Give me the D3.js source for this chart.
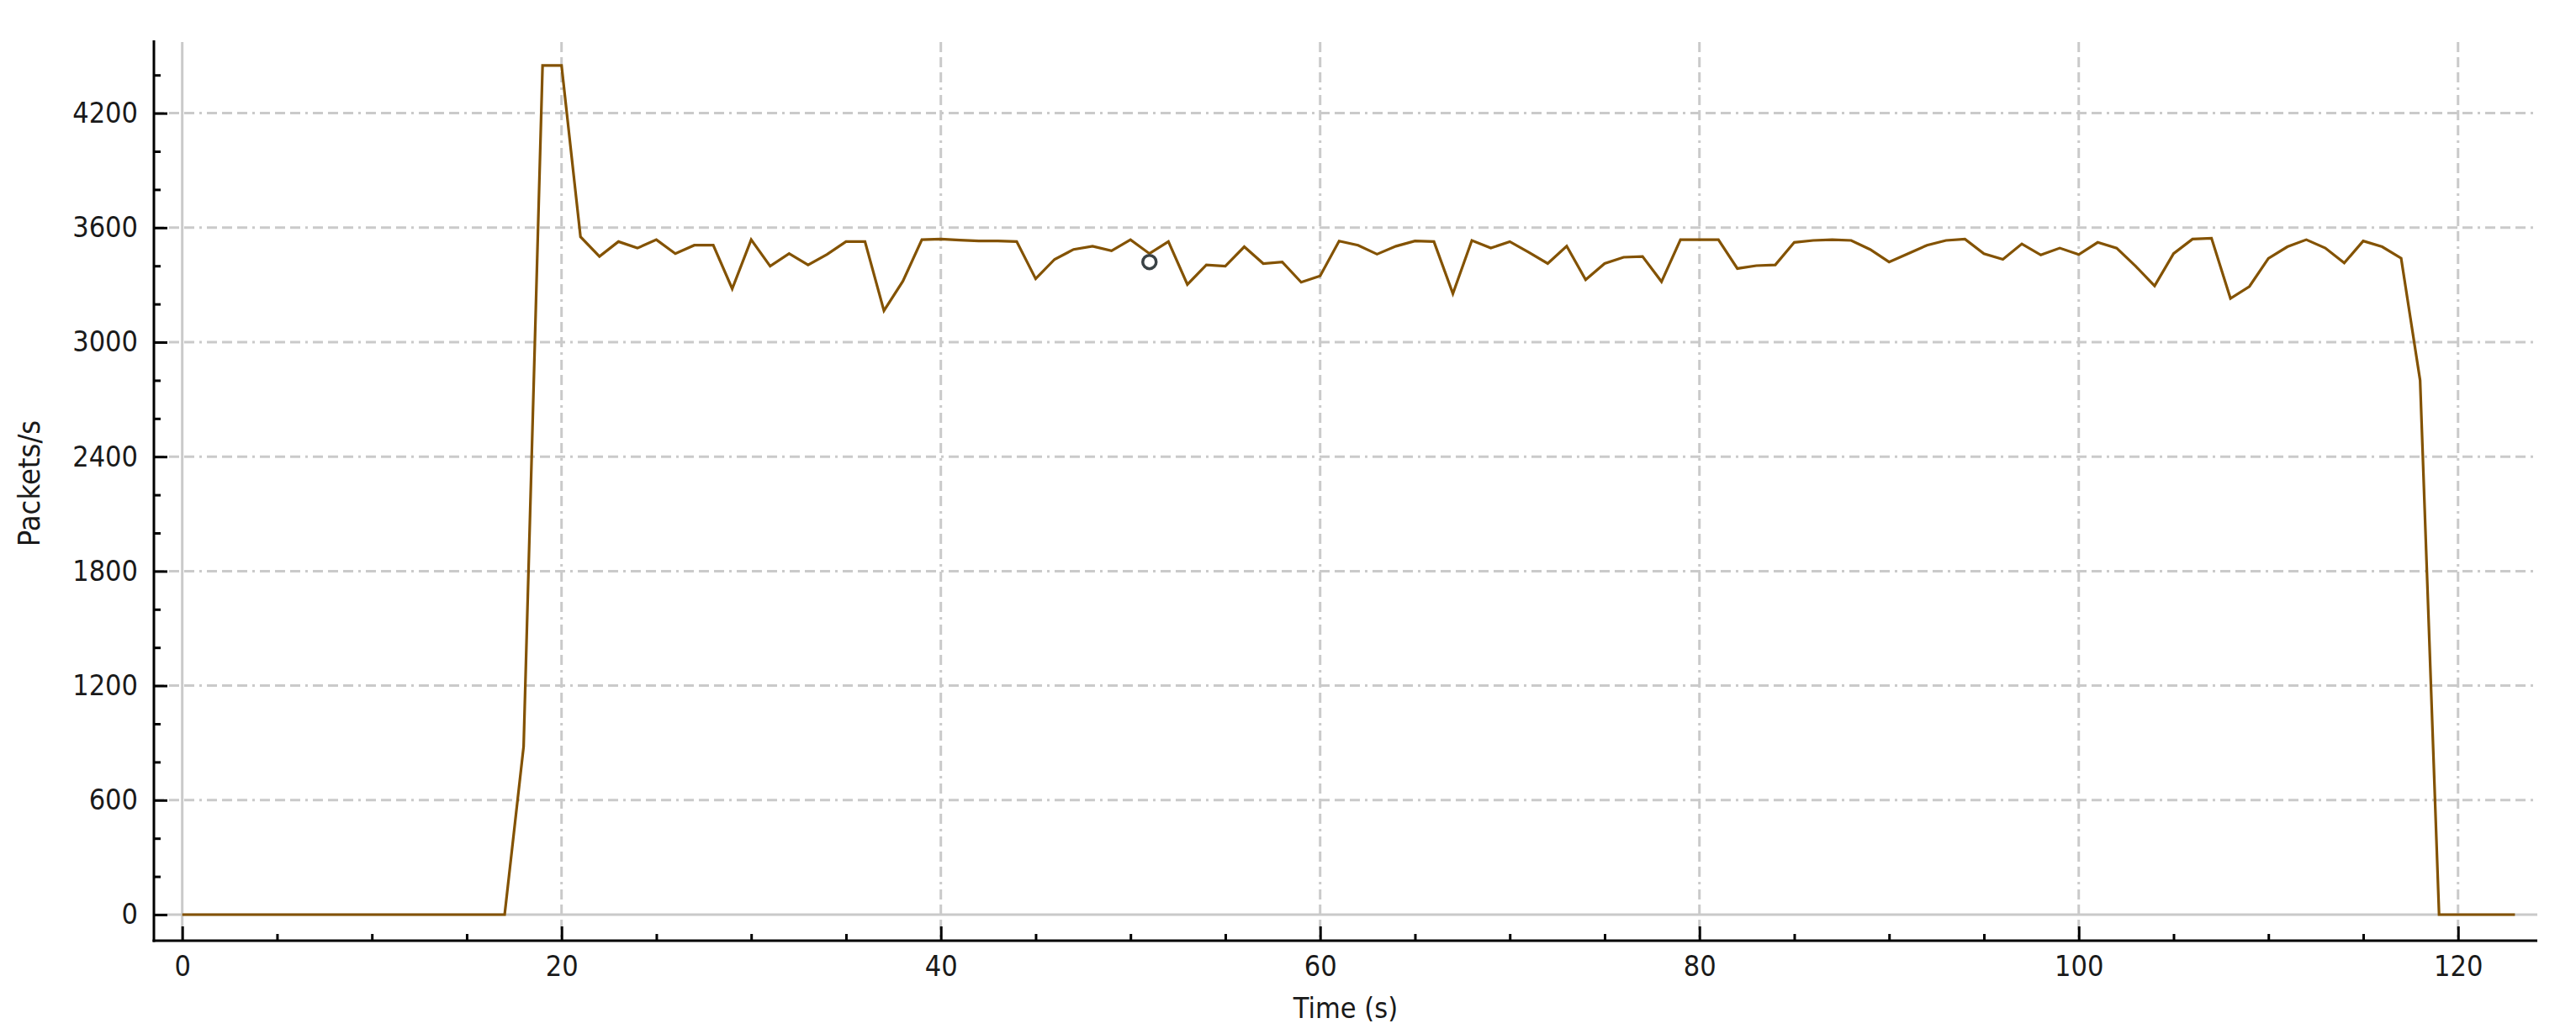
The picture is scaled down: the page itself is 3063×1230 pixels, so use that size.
<!DOCTYPE html>
<html>
<head>
<meta charset="utf-8">
<script src="https://cdn.jsdelivr.net/npm/d3@7"></script>
<style>
  html, body { margin: 0; padding: 0; background: #fff; }
  svg text { font-family: "DejaVu Sans Condensed", "DejaVu Sans", sans-serif; font-stretch: condensed; fill: #1a1a1a; }
</style>
</head>
<body>
<div id="chart"></div>
<script>
// packets per second, one sample per second (t = 0 .. 123)
var seconds = d3.range(0, 124)
var packets = [
  0, 0, 0, 0, 0, 0, 0, 0, 0, 0, 0, 0, 0, 0, 0, 0, 0, 0,
  880, 4450, 4450, 3552, 3449, 3527, 3493, 3537, 3464, 3508, 3508, 3280,
  3537, 3398, 3464, 3405, 3460, 3527, 3527, 3165, 3320, 3537,
  3540, 3535, 3530, 3530, 3527, 3332, 3434, 3486, 3503, 3479,
  3537, 3464, 3527, 3302, 3405, 3398, 3500, 3412, 3420, 3314,
  3347, 3530, 3508, 3461, 3503, 3530, 3527, 3254, 3533, 3493,
  3527, 3471, 3412, 3503, 3327, 3412, 3445, 3449, 3317, 3537,
  3537, 3537, 3386, 3401, 3405, 3523, 3533, 3537, 3533, 3486,
  3420, 3464, 3508, 3533, 3540, 3464, 3434, 3515, 3457, 3493,
  3459, 3523, 3493, 3398, 3295, 3464, 3540, 3545, 3229, 3292,
  3439, 3500, 3537, 3493, 3415, 3530, 3500, 3440, 2800, 0,
  0, 0, 0, 0
]
// hover marker
var marker = [51, 3420]

var xMajor = d3.range(0, 121, 20)
var xMinor = d3.range(5, 121, 5).filter(d => d % 20 != 0)
var yMajor = d3.range(0, 4201, 600)
var yMinor = d3.range(200, 4401, 200).filter(d => d % 600 != 0)

var width = 3063, height = 1230
var plot = { left: 183, right: 3017, top: 48, bottom: 1119 }

var x = d3.scaleLinear().domain([-1.494, 124.18]).range([plot.left, plot.right])
var y = d3.scaleLinear().domain([-136.6, 4581.6]).range([plot.bottom, plot.top])

var svg = d3.select("#chart").append("svg")
    .attr("width", width)
    .attr("height", height)

svg.append("rect").attr("width", width).attr("height", height).attr("fill", "#fff")

// grid
var grid = svg.append("g").attr("class", "grid")
grid.selectAll("line.h")
    .data(yMajor)
    .enter().append("line").attr("class", "h")
    .attr("x1", plot.left).attr("x2", plot.right)
    .attr("y1", d => y(d)).attr("y2", d => y(d))
grid.selectAll("line.v")
    .data(xMajor)
    .enter().append("line").attr("class", "v")
    .attr("x1", d => x(d)).attr("x2", d => x(d))
    .attr("y1", plot.top + 2).attr("y2", plot.bottom)
grid.selectAll("line")
    .attr("stroke", "#cacaca")
    .attr("stroke-width", 3)
    .attr("stroke-dasharray", d => d == 0 ? null : "12,6,12,6,12,6,3,6")

// data line
var line = d3.line()
    .x((d, i) => x(seconds[i]))
    .y(d => y(d))

svg.append("path")
    .datum(packets)
    .attr("fill", "none")
    .attr("stroke", "#835200")
    .attr("stroke-width", 3.2)
    .attr("stroke-linejoin", "miter")
    .attr("d", line)

svg.append("circle")
    .attr("cx", x(marker[0]))
    .attr("cy", y(marker[1]))
    .attr("r", 8)
    .attr("fill", "none")
    .attr("stroke", "#3a4246")
    .attr("stroke-width", 3.5)

// axes
var fmt = d3.format("d")
var yAxis = d3.axisLeft(y).tickValues(yMajor).tickFormat(fmt).tickSizeInner(-16).tickSizeOuter(0).tickPadding(19)
var yAxisMinor = d3.axisLeft(y).tickValues(yMinor).tickSizeInner(-8).tickSizeOuter(0).tickFormat("")
var xAxis = d3.axisBottom(x).tickValues(xMajor).tickFormat(fmt).tickSizeInner(-17).tickSizeOuter(0).tickPadding(18)
var xAxisMinor = d3.axisBottom(x).tickValues(xMinor).tickSizeInner(-8).tickSizeOuter(0).tickFormat("")

svg.append("g").attr("transform", "translate(" + plot.left + ",0)").call(yAxis)
svg.append("g").attr("transform", "translate(" + plot.left + ",0)").call(yAxisMinor)
svg.append("g").attr("transform", "translate(0," + plot.bottom + ")").call(xAxis)
svg.append("g").attr("transform", "translate(0," + plot.bottom + ")").call(xAxisMinor)

svg.selectAll(".domain").remove()
svg.selectAll(".tick line").attr("stroke", "#000").attr("stroke-width", 3)
svg.selectAll(".tick text").style("font-size", "34px").attr("fill", "#1a1a1a")

// axis lines
svg.append("line")
    .attr("x1", plot.left).attr("x2", plot.left)
    .attr("y1", plot.top).attr("y2", plot.bottom + 1.5)
    .attr("stroke", "#000").attr("stroke-width", 3)
svg.append("line")
    .attr("x1", plot.left - 1.5).attr("x2", plot.right)
    .attr("y1", plot.bottom).attr("y2", plot.bottom)
    .attr("stroke", "#000").attr("stroke-width", 3)

// axis titles
svg.append("text")
    .attr("x", (plot.left + plot.right) / 2)
    .attr("y", 1211)
    .attr("text-anchor", "middle")
    .style("font-size", "34px")
    .text("Time (s)")

svg.append("text")
    .attr("transform", "translate(47,575) rotate(-90)")
    .attr("text-anchor", "middle")
    .style("font-size", "36px")
    .text("Packets/s")
</script>
</body>
</html>
